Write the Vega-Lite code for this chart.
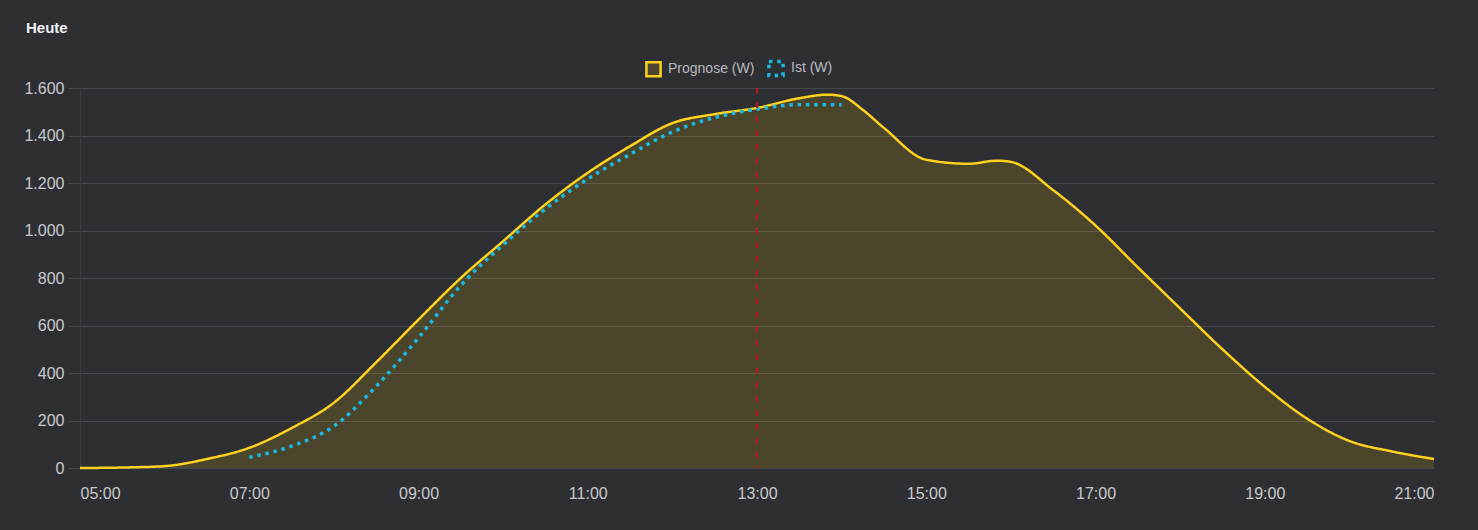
{
  "$schema": "https://vega.github.io/schema/vega-lite/v6.json",
  "width": 1354,
  "height": 380,
  "autosize": {"type": "none"},
  "padding": {"left": 80, "top": 88, "right": 44, "bottom": 62},
  "background": "#2e2f33",
  "title": {
    "text": "Heute",
    "anchor": "start",
    "frame": "group",
    "dx": -54,
    "offset": 23,
    "fontSize": 15,
    "fontWeight": "bold",
    "color": "#f0f0f5",
    "font": "Liberation Sans"
  },
  "data": {
    "values": [
      {"zeit": "2024-06-01T05:00Z", "serie": "Prognose (W)", "watt": 0},
      {"zeit": "2024-06-01T05:30Z", "serie": "Prognose (W)", "watt": 2},
      {"zeit": "2024-06-01T06:00Z", "serie": "Prognose (W)", "watt": 8},
      {"zeit": "2024-06-01T06:30Z", "serie": "Prognose (W)", "watt": 38},
      {"zeit": "2024-06-01T07:00Z", "serie": "Prognose (W)", "watt": 85},
      {"zeit": "2024-06-01T07:30Z", "serie": "Prognose (W)", "watt": 168},
      {"zeit": "2024-06-01T08:00Z", "serie": "Prognose (W)", "watt": 275},
      {"zeit": "2024-06-01T08:30Z", "serie": "Prognose (W)", "watt": 445},
      {"zeit": "2024-06-01T09:00Z", "serie": "Prognose (W)", "watt": 625},
      {"zeit": "2024-06-01T09:30Z", "serie": "Prognose (W)", "watt": 800},
      {"zeit": "2024-06-01T10:00Z", "serie": "Prognose (W)", "watt": 955},
      {"zeit": "2024-06-01T10:30Z", "serie": "Prognose (W)", "watt": 1110},
      {"zeit": "2024-06-01T11:00Z", "serie": "Prognose (W)", "watt": 1243},
      {"zeit": "2024-06-01T11:30Z", "serie": "Prognose (W)", "watt": 1355},
      {"zeit": "2024-06-01T12:00Z", "serie": "Prognose (W)", "watt": 1452},
      {"zeit": "2024-06-01T12:30Z", "serie": "Prognose (W)", "watt": 1490},
      {"zeit": "2024-06-01T13:00Z", "serie": "Prognose (W)", "watt": 1516},
      {"zeit": "2024-06-01T13:30Z", "serie": "Prognose (W)", "watt": 1557},
      {"zeit": "2024-06-01T13:50Z", "serie": "Prognose (W)", "watt": 1572},
      {"zeit": "2024-06-01T14:00Z", "serie": "Prognose (W)", "watt": 1566},
      {"zeit": "2024-06-01T14:15Z", "serie": "Prognose (W)", "watt": 1508},
      {"zeit": "2024-06-01T14:30Z", "serie": "Prognose (W)", "watt": 1432},
      {"zeit": "2024-06-01T15:00Z", "serie": "Prognose (W)", "watt": 1298},
      {"zeit": "2024-06-01T15:30Z", "serie": "Prognose (W)", "watt": 1281},
      {"zeit": "2024-06-01T15:50Z", "serie": "Prognose (W)", "watt": 1294},
      {"zeit": "2024-06-01T16:00Z", "serie": "Prognose (W)", "watt": 1289},
      {"zeit": "2024-06-01T16:30Z", "serie": "Prognose (W)", "watt": 1170},
      {"zeit": "2024-06-01T17:00Z", "serie": "Prognose (W)", "watt": 1021},
      {"zeit": "2024-06-01T17:30Z", "serie": "Prognose (W)", "watt": 845},
      {"zeit": "2024-06-01T18:00Z", "serie": "Prognose (W)", "watt": 672},
      {"zeit": "2024-06-01T18:30Z", "serie": "Prognose (W)", "watt": 500},
      {"zeit": "2024-06-01T19:00Z", "serie": "Prognose (W)", "watt": 342},
      {"zeit": "2024-06-01T19:30Z", "serie": "Prognose (W)", "watt": 208},
      {"zeit": "2024-06-01T20:00Z", "serie": "Prognose (W)", "watt": 114},
      {"zeit": "2024-06-01T20:30Z", "serie": "Prognose (W)", "watt": 70},
      {"zeit": "2024-06-01T21:00Z", "serie": "Prognose (W)", "watt": 38},
      {"zeit": "2024-06-01T07:00Z", "serie": "Ist (W)", "watt": 45},
      {"zeit": "2024-06-01T07:30Z", "serie": "Ist (W)", "watt": 92},
      {"zeit": "2024-06-01T08:00Z", "serie": "Ist (W)", "watt": 176},
      {"zeit": "2024-06-01T08:30Z", "serie": "Ist (W)", "watt": 344},
      {"zeit": "2024-06-01T09:00Z", "serie": "Ist (W)", "watt": 548},
      {"zeit": "2024-06-01T09:30Z", "serie": "Ist (W)", "watt": 769},
      {"zeit": "2024-06-01T10:00Z", "serie": "Ist (W)", "watt": 940},
      {"zeit": "2024-06-01T10:30Z", "serie": "Ist (W)", "watt": 1091},
      {"zeit": "2024-06-01T11:00Z", "serie": "Ist (W)", "watt": 1217},
      {"zeit": "2024-06-01T11:30Z", "serie": "Ist (W)", "watt": 1321},
      {"zeit": "2024-06-01T12:00Z", "serie": "Ist (W)", "watt": 1415},
      {"zeit": "2024-06-01T12:30Z", "serie": "Ist (W)", "watt": 1476},
      {"zeit": "2024-06-01T13:00Z", "serie": "Ist (W)", "watt": 1511},
      {"zeit": "2024-06-01T13:30Z", "serie": "Ist (W)", "watt": 1530},
      {"zeit": "2024-06-01T14:00Z", "serie": "Ist (W)", "watt": 1530}
    ]
  },
  "encoding": {
    "x": {
      "field": "zeit",
      "type": "temporal",
      "title": null,
      "scale": {"type": "utc", "nice": false},
      "axis": {
        "format": "%H:%M",
        "values": [1717218000000, 1717225200000, 1717232400000, 1717239600000, 1717246800000, 1717254000000, 1717261200000, 1717268400000, 1717275600000],
        "grid": false,
        "ticks": false,
        "domain": false,
        "labelPadding": 17
      }
    }
  },
  "layer": [
    {
      "transform": [{"filter": "datum.serie === 'Prognose (W)'"}],
      "mark": {
        "type": "area",
        "color": "#ffd700",
        "fillOpacity": 0.14,
        "interpolate": "monotone"
      },
      "encoding": {
        "y": {
          "field": "watt",
          "type": "quantitative",
          "title": null,
          "scale": {"domain": [0, 1600], "nice": false},
          "axis": {
            "values": [0, 200, 400, 600, 800, 1000, 1200, 1400, 1600],
            "labelExpr": "replace(format(datum.value, ','), ',', '.')",
            "tickSize": 12,
            "labelPadding": 4,
            "domain": true,
            "domainColor": "#3b3c41",
            "tickColor": "#46474c",
            "gridColor": "#46474c"
          }
        }
      }
    },
    {
      "mark": {
        "type": "line",
        "interpolate": "monotone",
        "strokeCap": "butt"
      },
      "encoding": {
        "y": {"field": "watt", "type": "quantitative"},
        "color": {
          "field": "serie",
          "type": "nominal",
          "scale": {
            "domain": ["Prognose (W)", "Ist (W)"],
            "range": ["#ffd21f", "#1ab9e3"]
          },
          "legend": {
            "title": null,
            "orient": "none",
            "legendX": 565,
            "legendY": -29,
            "direction": "horizontal",
            "symbolType": "square",
            "symbolSize": 200,
            "symbolStrokeWidth": 2.5,
            "labelColor": "#b9b9bd",
            "labelFontSize": 14,
            "labelFont": "Liberation Sans",
            "labelOffset": 6,
            "columnPadding": 6,
            "encode": {
              "symbols": {
                "update": {
                  "fill": {"signal": "datum.value === 'Prognose (W)' ? '#4a4430' : 'transparent'"}
                }
              }
            }
          }
        },
        "strokeDash": {
          "field": "serie",
          "type": "nominal",
          "scale": {
            "domain": ["Prognose (W)", "Ist (W)"],
            "range": [[1, 0], [3.5, 4.8]]
          },
          "legend": null
        },
        "strokeWidth": {
          "field": "serie",
          "type": "nominal",
          "scale": {
            "domain": ["Prognose (W)", "Ist (W)"],
            "range": [2.5, 3.5]
          },
          "legend": null
        }
      }
    },
    {
      "data": {"values": [{"zeit": "2024-06-01T13:00Z"}]},
      "mark": {
        "type": "rule",
        "color": "#c0141a",
        "strokeWidth": 2,
        "strokeDash": [6, 8]
      },
      "encoding": {}
    }
  ],
  "config": {
    "view": {"stroke": null},
    "axis": {
      "labelColor": "#c9c9cc",
      "labelFontSize": 16,
      "labelFont": "Liberation Sans",
      "gridColor": "#46474c",
      "gridWidth": 1,
      "tickWidth": 1
    }
  }
}
